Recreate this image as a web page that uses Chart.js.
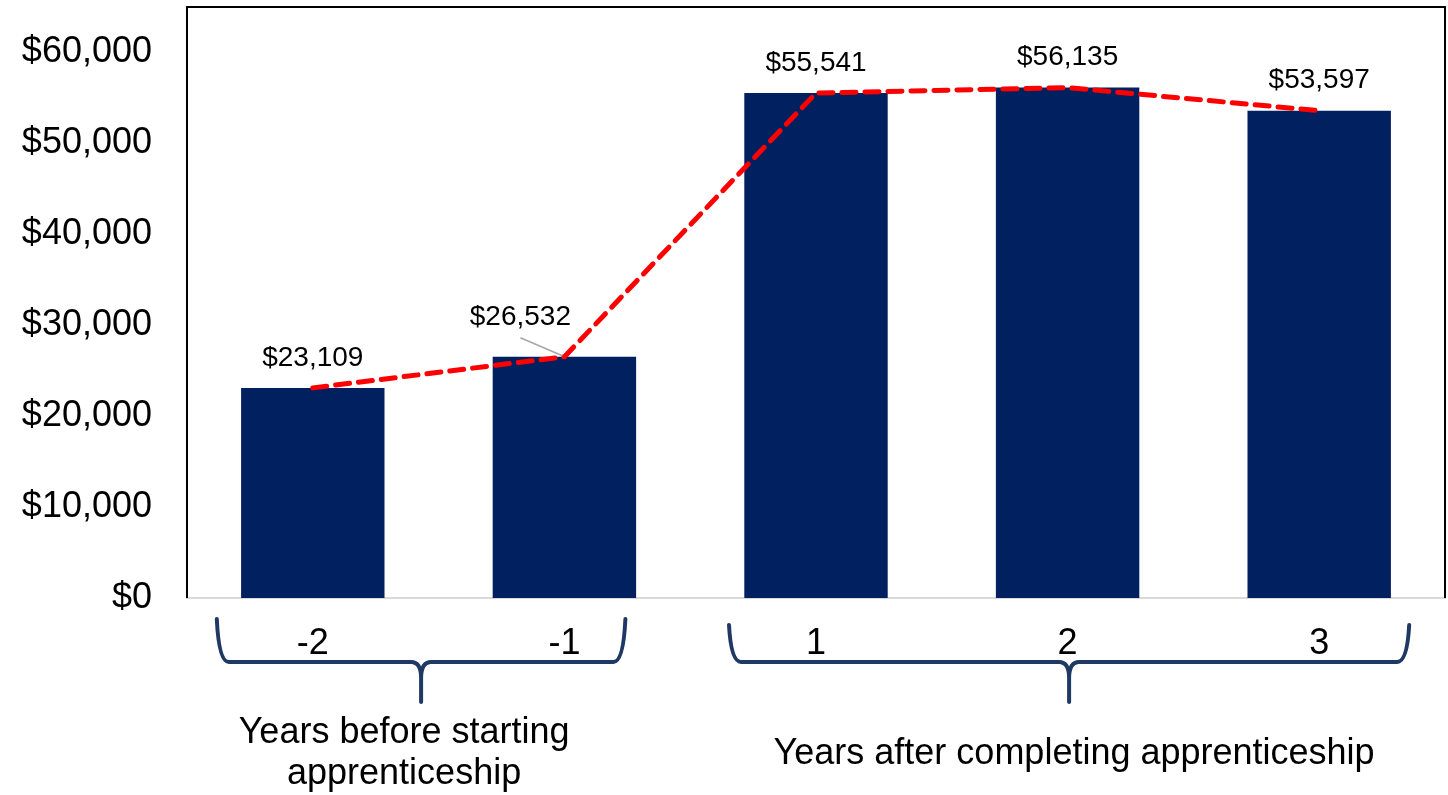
<!DOCTYPE html>
<html>
<head>
<meta charset="utf-8">
<script src="https://cdn.jsdelivr.net/npm/chart.js@4/dist/chart.umd.min.js"></script>
<style>
    html, body { margin: 0; padding: 0; background: #fff; }
    #wrap { width: 1448px; height: 795px; position: relative; }
</style>
</head>
<body>
<div id="wrap"><canvas id="chart"></canvas></div>
<script>
// Data
const categories = ['-2', '-1', '1', '2', '3'];
const earnings = [23109, 26532, 55541, 56135, 53597];
const yTicks = [0, 10000, 20000, 30000, 40000, 50000, 60000];
const groupLabels = [['Years before starting', 'apprenticeship'], ['Years after completing apprenticeship']];
const groupRanges = [[0, 1], [2, 4]];

const FONT = '"Liberation Sans", Arial, Helvetica, sans-serif';
const NAVY = '#002060';

const money = v => '$' + v.toLocaleString('en-US');

// Plot frame (top, left, right are black; bottom is the gray axis line)
const framePlugin = {
    id: 'frame',
    afterDraw(chart) {
        const { ctx, chartArea: a } = chart;
        ctx.save();
        ctx.strokeStyle = '#000';
        ctx.lineWidth = 2;
        ctx.beginPath();
        ctx.moveTo(a.left, a.bottom);
        ctx.lineTo(a.left, a.top);
        ctx.lineTo(a.right, a.top);
        ctx.lineTo(a.right, a.bottom);
        ctx.stroke();
        ctx.restore();
    }
};

// Value labels above each bar
const valueLabels = {
    id: 'valueLabels',
    afterDatasetsDraw(chart) {
        const { ctx } = chart;
        const bars = chart.getDatasetMeta(1).data;
        ctx.save();
        ctx.font = `28px ${FONT}`;
        ctx.fillStyle = '#000';
        ctx.textAlign = 'center';
        ctx.textBaseline = 'middle';
        bars.forEach((bar, i) => {
            let x = bar.x;
            let y = bar.y - 30;
            // second label is pulled up-left with a leader line
            if (i === 1) {
                x = bar.x - 44;
                y = bar.y - 39;
                ctx.strokeStyle = '#a6a6a6';
                ctx.lineWidth = 1.5;
                ctx.beginPath();
                ctx.moveTo(x, y + 20);
                ctx.lineTo(bar.x - 2, bar.y - 1);
                ctx.stroke();
            }
            ctx.fillText(money(earnings[i]), x, y);
        });
        ctx.restore();
    }
};

// Curly braces and group titles under the x axis
const groupBraces = {
    id: 'groupBraces',
    afterDraw(chart) {
        const { ctx } = chart;
        const xs = chart.scales.x;
        const pads = [[96, 61], [87, 90]];
        const tops = [619, 625];
        const textDx = [-17, 5];
        ctx.save();
        ctx.strokeStyle = '#1f3864';
        ctx.lineWidth = 4;
        ctx.lineCap = 'round';
        groupRanges.forEach(([from, to], g) => {
            const x1 = xs.getPixelForValue(from) - pads[g][0];
            const x2 = xs.getPixelForValue(to) + pads[g][1];
            const xm = (x1 + x2) / 2;
            const top = tops[g];
            const mid = 662;
            const tip = 702;
            ctx.beginPath();
            ctx.moveTo(x1, top);
            ctx.quadraticCurveTo(x1 + 2, mid, x1 + 12, mid);
            ctx.lineTo(xm - 10, mid);
            ctx.quadraticCurveTo(xm, mid, xm, mid + 16);
            ctx.lineTo(xm, tip);
            ctx.moveTo(xm, mid + 16);
            ctx.quadraticCurveTo(xm, mid, xm + 10, mid);
            ctx.lineTo(x2 - 12, mid);
            ctx.quadraticCurveTo(x2 - 2, mid, x2, top);
            ctx.stroke();

            ctx.font = `36px ${FONT}`;
            ctx.fillStyle = '#000';
            ctx.textAlign = 'center';
            ctx.textBaseline = 'middle';
            const lines = groupLabels[g];
            const startY = lines.length > 1 ? 733 : 754;
            lines.forEach((line, k) => {
                ctx.fillText(line, xm + textDx[g], startY + k * 41);
            });
        });
        ctx.restore();
    }
};

new Chart(document.getElementById('chart'), {
    data: {
        labels: categories,
        datasets: [
            {
                type: 'line',
                data: earnings,
                borderColor: '#ff0000',
                borderWidth: 5,
                borderDash: [14, 9],
                borderCapStyle: 'round',
                pointRadius: 0,
                tension: 0,
                order: 0
            },
            {
                type: 'bar',
                data: earnings,
                backgroundColor: NAVY,
                borderWidth: 0,
                barPercentage: 0.57,
                categoryPercentage: 1,
                order: 1
            }
        ]
    },
    options: {
        responsive: true,
        maintainAspectRatio: false,
        animation: false,
        layout: {
            padding: { top: 7, right: 3, left: 0, bottom: 0 }
        },
        plugins: {
            legend: { display: false },
            tooltip: { enabled: false }
        },
        scales: {
            x: {
                grid: { display: false },
                border: { display: true, color: '#d9d9d9', width: 2 },
                ticks: {
                    padding: 16,
                    color: '#000',
                    font: { family: FONT, size: 36 }
                },
                afterFit(scale) {
                    scale.height = 197;
                    scale.paddingLeft = 0;
                    scale.paddingRight = 0;
                }
            },
            y: {
                min: 0,
                max: 65000,
                grid: { display: false },
                border: { display: false },
                afterBuildTicks(scale) {
                    scale.ticks = yTicks.map(v => ({ value: v }));
                },
                ticks: {
                    padding: 27,
                    color: '#000',
                    font: { family: FONT, size: 36 },
                    callback: v => money(v)
                },
                afterFit(scale) {
                    scale.width = 187;
                    scale.paddingTop = 0;
                    scale.paddingBottom = 0;
                }
            }
        }
    },
    plugins: [framePlugin, valueLabels, groupBraces]
});
</script>
</body>
</html>
